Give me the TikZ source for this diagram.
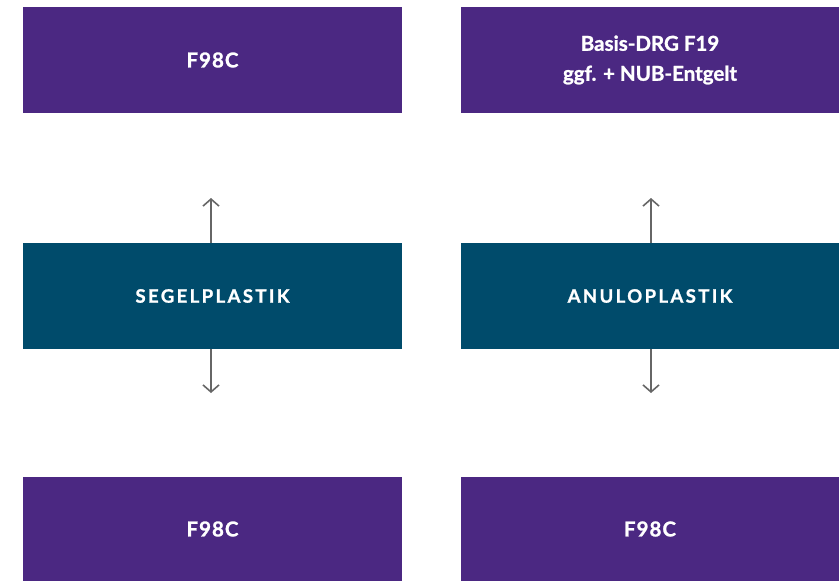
\documentclass[tikz,border=0pt]{standalone}
\usepackage{fontspec}
\setmainfont{Lato}
\usetikzlibrary{arrows.meta}
\definecolor{purp}{HTML}{4B2882}
\definecolor{teal}{HTML}{004B6B}
\definecolor{arr}{HTML}{666666}
\tikzset{
  pbox/.style={fill=purp, text=white, font=\bfseries\fontsize{20.5}{30}\selectfont\addfontfeatures{FakeBold=1.2}, align=center, inner sep=0pt},
  tbox/.style={fill=teal, text=white, font=\bfseries\fontsize{18.5}{21}\selectfont\addfontfeatures{LetterSpace=13,FakeBold=1.2}, align=center, inner sep=0pt},
  conn/.style={draw=arr, line width=1.6pt, -{Straight Barb[length=7pt,width=16pt,line width=1.6pt]}}
}
\newcommand{\spaced}[1]{{\addfontfeatures{LetterSpace=5}#1}}
\begin{document}
\begin{tikzpicture}[x=1pt,y=-1pt]
\useasboundingbox (0,0) rectangle (839,581);
\path[pbox] (23,7) rectangle (402,113) node[midway] (a1) {\spaced{F98C}};
\path[pbox] (461,7) rectangle (839,113) node[midway] (b1) {Basis-DRG F19\\ggf. + NUB-Entgelt};
\path[tbox] (23,243) rectangle (402,349) node[midway] (a2) {SEGELPLASTIK};
\path[tbox] (461,243) rectangle (839,349) node[midway] (b2) {ANULOPLASTIK};
\path[pbox] (23,477) rectangle (402,581) node[midway] (a3) {\spaced{F98C}};
\path[pbox] (461,477) rectangle (839,581) node[midway] (b3) {\spaced{F98C}};
\coordinate (au) at (211,198);
\coordinate (ad) at (211,393);
\coordinate (bu) at (651,198);
\coordinate (bd) at (651,393);
\draw[conn] (211,243) -- (au);
\draw[conn] (211,349) -- (ad);
\draw[conn] (651,243) -- (bu);
\draw[conn] (651,349) -- (bd);
\end{tikzpicture}
\end{document}
